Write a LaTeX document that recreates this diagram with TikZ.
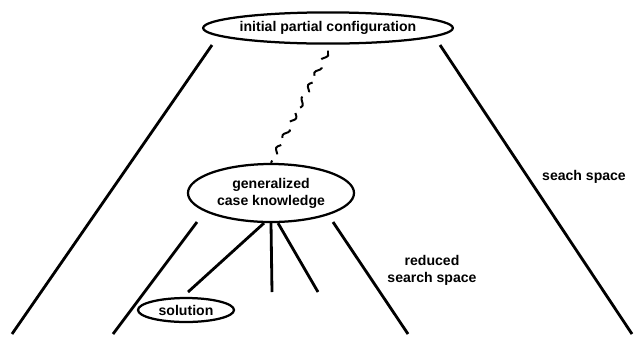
\documentclass[tikz,border=0pt]{standalone}
\usepackage{fontspec}
\setmainfont{Liberation Sans}
\usetikzlibrary{shapes.geometric,decorations.pathmorphing}
\tikzset{
	conf/.style={ellipse, draw, line width=1.6pt, inner sep=0pt, font=\bfseries, align=center},
	side/.style={line width=2pt},
	lbl/.style={font=\bfseries, align=center, inner sep=0pt},
}
\begin{document}
\begin{tikzpicture}[x=0.025cm,y=-0.025cm]
	\useasboundingbox (0,0) rectangle (637,338);
	% Configurations
	\node [conf, minimum width=5.55cm, minimum height=0.78cm] (init) at (328,28) {initial partial configuration};
	\node [conf, minimum width=4.15cm, minimum height=1.45cm] (gen) at (271,193) {generalized\\case knowledge};
	\node [conf, minimum width=2.4cm, minimum height=0.6cm] (sol) at (186,310) {solution};
	% Search spaces
	\coordinate (ol) at (212,45); \coordinate (olb) at (12,334);
	\coordinate (or) at (440,45); \coordinate (orb) at (632,334);
	\draw [side] (ol) -- (olb);
	\draw [side] (or) -- (orb);
	\coordinate (il) at (197,222); \coordinate (ilb) at (113,334);
	\coordinate (ir) at (333,222); \coordinate (irb) at (408,334);
	\draw [side] (il) -- (ilb);
	\draw [side] (ir) -- (irb);
	\node [lbl] (ss) at (584,177) {seach space};
	\node [lbl] (rss) at (432,270) {reduced\\search space};
	% Generalization
	\draw [line width=1.4pt, dash pattern=on 9pt off 6pt, decorate, decoration={snake, amplitude=1.6pt, segment length=10pt}] (init.south) ++(0,6) -- (gen.north);
	% Branches
	\coordinate (b1) at (188,292); \coordinate (b2) at (272,292); \coordinate (b3) at (318,292);
	\draw [side] ([xshift=-5]gen.south) -- (b1);
	\draw [side] (gen.south) -- (b2);
	\draw [side] ([xshift=5]gen.south) -- (b3);
\end{tikzpicture}
\end{document}
